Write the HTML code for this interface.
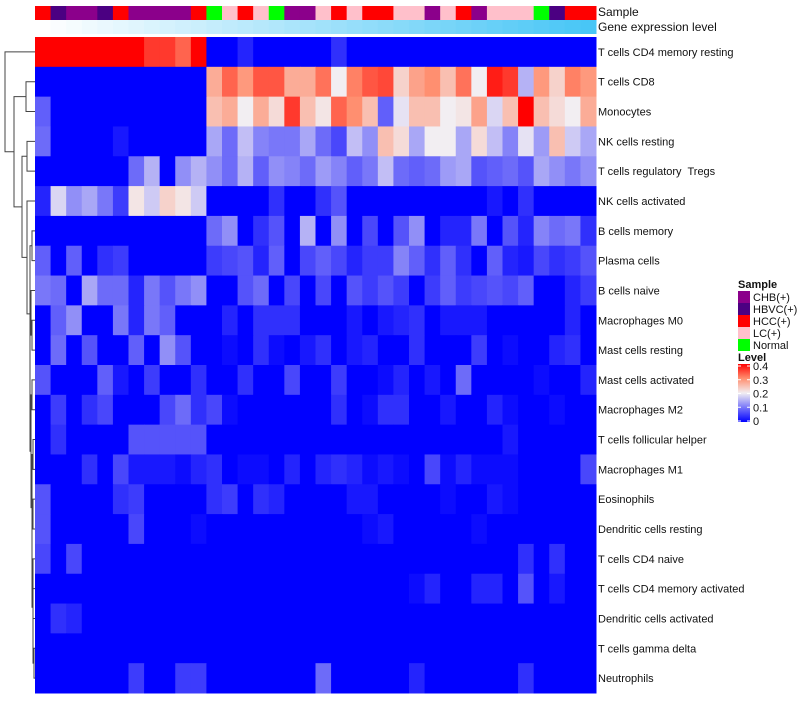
<!DOCTYPE html>
<html><head><meta charset="utf-8"><style>
body{margin:0;background:#fff;font-family:"Liberation Sans",sans-serif}
svg text{font-family:"Liberation Sans",sans-serif;white-space:pre}
</style></head><body>
<svg id="c" width="800" height="700"></svg>
<script>
const rowNames=["T cells CD4 memory resting","T cells CD8","Monocytes","NK cells resting","T cells regulatory  Tregs","NK cells activated","B cells memory","Plasma cells","B cells naive","Macrophages M0","Mast cells resting","Mast cells activated","Macrophages M2","T cells follicular helper","Macrophages M1","Eosinophils","Dendritic cells resting","T cells CD4 naive","T cells CD4 memory activated","Dendritic cells activated","T cells gamma delta","Neutrophils"];
const sampleGroups=["HCC","HBVC","CHB","CHB","HBVC","HCC","CHB","CHB","CHB","CHB","HCC","Normal","LC","HCC","LC","Normal","CHB","CHB","LC","HCC","LC","HCC","HCC","LC","LC","CHB","LC","HCC","CHB","LC","LC","LC","Normal","HBVC","HCC","HCC"];
const geneLevel=[0,1,2,3,4,5,6,7,8,9,10,11,12,13,14,15,16,17,18,19,20,21,22,23,24,25,26,27,28,29,30,31,32,33,34,35];
const r0=[.4,.4,.4,.4,.4,.4,.4,.36,.36,.33,.4,0,0,.03,0,0,0,0,0,.04,0,0,0,0,0,0,0,0,0,0,0,0,0,0,0,0];
const r1=[0,0,0,0,0,0,0,0,0,0,0,.27,.33,.29,.34,.34,.27,.27,.32,.2,.31,.34,.35,.23,.28,.3,.25,.32,.2,.38,.36,.15,.29,.23,.31,.29];
const r2=[.08,0,0,0,0,0,0,0,0,0,0,.25,.27,.2,.27,.22,.36,.25,.21,.33,.3,.25,.08,.19,.25,.25,.2,.21,.28,.18,.25,.4,.25,.22,.2,.27];
const r3=[.09,0,0,0,0,.02,0,0,0,0,0,.14,.09,.16,.11,.1,.1,.14,.09,.06,.16,.12,.25,.22,.14,.2,.2,.14,.22,.16,.11,.19,.13,.25,.17,.14];
const r4=[0,0,0,0,0,0,.09,.15,0,.12,.15,.12,.09,.15,.08,.12,.11,.09,.13,.11,.08,.1,.16,.09,.08,.09,.13,.14,.07,.08,.09,.07,.14,.12,.1,.12];
const r5=[.03,.18,.12,.14,.1,.05,.21,.17,.23,.21,.17,0,0,0,0,.04,0,0,.04,.07,0,0,0,0,0,0,0,0,0,.02,0,.04,0,0,0,0];
const r6=[0,0,0,0,0,0,0,0,0,0,0,.09,.12,0,.04,.07,0,.15,0,.12,0,.06,0,.07,.12,0,.03,.03,.1,0,.07,.03,.11,.09,.1,.04];
const r7=[.08,0,.08,0,.04,.05,0,0,0,0,0,.05,.06,.07,.03,.08,0,.06,.08,.06,.03,.05,.05,.11,.08,.04,.08,.04,0,.08,.03,.02,.06,.04,.05,.07];
const r8=[.1,.09,0,.14,.09,.09,.03,.1,.07,.1,.12,0,0,.07,.09,0,.06,0,.06,0,.07,.05,.07,.05,0,.05,.08,.05,.06,.07,.06,.08,0,0,.03,.05];
const r9=[0,.08,.12,0,0,.1,.03,.1,.08,0,0,0,.03,0,.04,.04,.04,0,0,0,.02,0,.02,.03,.04,0,.02,.02,.02,0,0,0,0,0,.03,0];
const r10=[0,.09,0,.07,0,0,.08,0,.12,.07,0,0,.01,0,.04,.01,0,.02,.04,0,.02,.03,0,0,.04,0,0,0,.05,0,.01,0,0,.03,.04,0];
const r11=[.07,0,0,0,.08,.02,0,.05,0,0,.04,0,0,.04,0,0,.06,0,0,.05,0,0,.01,.03,0,.02,0,.09,0,0,0,0,.01,0,0,.03];
const r12=[0,.05,0,.04,.06,0,0,0,.06,.09,.04,.06,.01,0,0,0,0,0,0,.04,0,.01,.04,.04,0,0,.02,0,0,.03,.01,0,0,.01,0,0];
const r13=[0,.04,0,0,0,0,.07,.07,.07,.07,.07,0,0,0,0,0,0,0,0,0,0,0,0,0,0,0,0,0,0,0,.02,0,0,0,0,0];
const r14=[0,0,0,.04,0,.06,.02,.02,.02,.01,.03,.04,0,.01,.01,0,.03,0,.03,.04,.03,.01,.02,.01,0,.06,.01,.03,.01,.01,.01,0,0,0,0,.06];
const r15=[.07,0,0,0,0,.04,.05,0,0,0,0,.04,.05,0,.04,.03,0,0,0,0,.02,.02,0,0,0,0,.01,0,0,.02,.01,0,0,0,0,0];
const r16=[.07,0,0,0,0,0,.06,0,0,0,.01,0,0,0,0,0,0,0,0,0,0,.01,.02,0,0,0,0,0,.01,0,0,0,0,0,0,0];
const r17=[.06,0,.06,0,0,0,0,0,0,0,0,0,0,0,0,0,0,0,0,0,0,0,0,0,0,0,0,0,0,0,0,.04,0,.04,0,0];
const r18=[0,0,0,0,0,0,0,0,0,0,0,0,0,0,0,0,0,0,0,0,0,0,0,0,.01,.03,0,0,.03,.03,0,.07,0,.02,0,0];
const r19=[0,.04,.03,0,0,0,0,0,0,0,0,0,0,0,0,0,0,0,0,0,0,0,0,0,0,0,0,0,0,0,0,0,0,0,0,0];
const r20=[0,0,0,0,0,0,0,0,0,0,0,0,0,0,0,0,0,0,0,0,0,0,0,0,0,0,0,0,0,0,0,0,0,0,0,0];
const r21=[0,0,0,0,0,0,.05,0,0,.05,.05,0,0,0,0,0,0,0,.09,0,0,0,0,0,.03,0,0,0,0,0,0,.04,0,0,0,0];
const values=[r0,r1,r2,r3,r4,r5,r6,r7,r8,r9,r10,r11,r12,r13,r14,r15,r16,r17,r18,r19,r20,r21];
const legendLabels=["CHB(+)","HBVC(+)","HCC(+)","LC(+)","Normal"];
const levelTicks=[0,0.1,0.2,0.3,0.4];
const groupColor={CHB:"#8b008b",HBVC:"#4b0082",HCC:"#ff0000",LC:"#ffc0cb",Normal:"#00ff00"};
const legendColors=["#8b008b","#4b0082","#ff0000","#ffc0cb","#00ff00"];

const NS="http://www.w3.org/2000/svg",svg=document.getElementById('c');
function mk(t,a,p){const e=document.createElementNS(NS,t);for(const k in a)e.setAttribute(k,a[k]);(p||svg).appendChild(e);return e;}
const X0=35,X1=596,Y0=37,Y1=693,nC=36,nR=22,cw=(X1-X0)/nC,rh=(Y1-Y0)/nR;
const xs=i=>X0+i*cw, ys=j=>Y0+j*rh;
function lerp(a,b,t){return a.map((v,i)=>Math.round(v+(b[i]-v)*t));}
function col(v){const t=Math.max(0,Math.min(1,v/0.4));let c;
if(t<0.5)c=lerp([0,0,255],[242,238,242],t*2);
else if(t<0.75)c=lerp([242,238,242],[255,143,112],(t-0.5)*4);
else c=lerp([255,143,112],[255,0,0],(t-0.75)*4);
return `rgb(${c})`;}
const gHm=mk('g',{});

values.forEach((row,j)=>row.forEach((v,i)=>{const r=mk('rect',{x:xs(i),y:ys(j),width:cw+0.5,height:rh+0.5,fill:col(v)},gHm);

}));
sampleGroups.forEach((g,i)=>{const r=mk('rect',{x:xs(i),y:6,width:cw+0.5,height:14,fill:groupColor[g]});

});
const gmax=Math.max(...geneLevel);
geneLevel.forEach((g,i)=>{const c=lerp([255,255,255],[72,198,246],g/gmax);const r=mk('rect',{x:xs(i),y:20,width:cw+0.5,height:14,fill:`rgb(${c})`});

});
function txt(x,y,s,o){const t=mk('text',Object.assign({x:x,y:y,'font-size':11,fill:'#111'},o||{}));t.textContent=s;return t;}
let t=txt(598,16,"Sample",{'font-size':12});
t=txt(598,31,"Gene expression level",{'font-size':12});
rowNames.forEach((n,j)=>{const e=txt(598,ys(j)+rh/2+4,n);

});
const tree={h:5,c:[0,{h:14,c:[{h:26,c:[1,2]},{h:22,c:[{h:27,c:[3,4]},{h:27,c:[5,{h:30,c:[{h:32,c:[6,7]},{h:30,c:[{h:31,c:[8,{h:32,c:[9,10]}]},{h:31,c:[{h:32,c:[11,12]},{h:32,c:[{h:33,c:[13,14]},{h:32,c:[{h:33,c:[15,16]},{h:33,c:[{h:33,c:[17,18]},{h:33,c:[19,{h:34,c:[20,21]}]}]}]}]}]}]}]}]}]}]}]};
const gD=mk('g',{stroke:'#444','stroke-width':1,fill:'none'});

function draw(n){if(typeof n==='number')return{x:X0,y:ys(n)+rh/2};const a=draw(n.c[0]),b=draw(n.c[1]);
mk('path',{d:`M${a.x},${a.y}H${n.h}V${b.y}H${b.x}`},gD);return{x:n.h,y:(a.y+b.y)/2};}
draw(tree);
t=txt(738,288,"Sample",{'font-weight':'bold','font-size':11});
legendLabels.forEach((l,k)=>{const y=291+k*12;const r=mk('rect',{x:738,y:y,width:12,height:12,fill:legendColors[k]});


const e=txt(753,y+10,l);

});
t=txt(738,361,"Level",{'font-weight':'bold','font-size':11});
const defs=mk('defs',{});const lg=mk('linearGradient',{id:'lg',x1:0,y1:1,x2:0,y2:0},defs);
[0,0.125,0.25,0.375,0.5,0.625,0.75,0.875,1].forEach(o=>mk('stop',{offset:o,'stop-color':col(o*0.4)},lg));
const cb=mk('rect',{x:738,y:364,width:12,height:58,fill:'url(#lg)'});
const cy=v=>421-(v/0.4)*55;
levelTicks.forEach(v=>{mk('line',{x1:738,x2:741,y1:cy(v),y2:cy(v),stroke:'#fff'});mk('line',{x1:747,x2:750,y1:cy(v),y2:cy(v),stroke:'#fff'});
const e=txt(753,cy(v)+4,String(v));

});
</script></body></html>
